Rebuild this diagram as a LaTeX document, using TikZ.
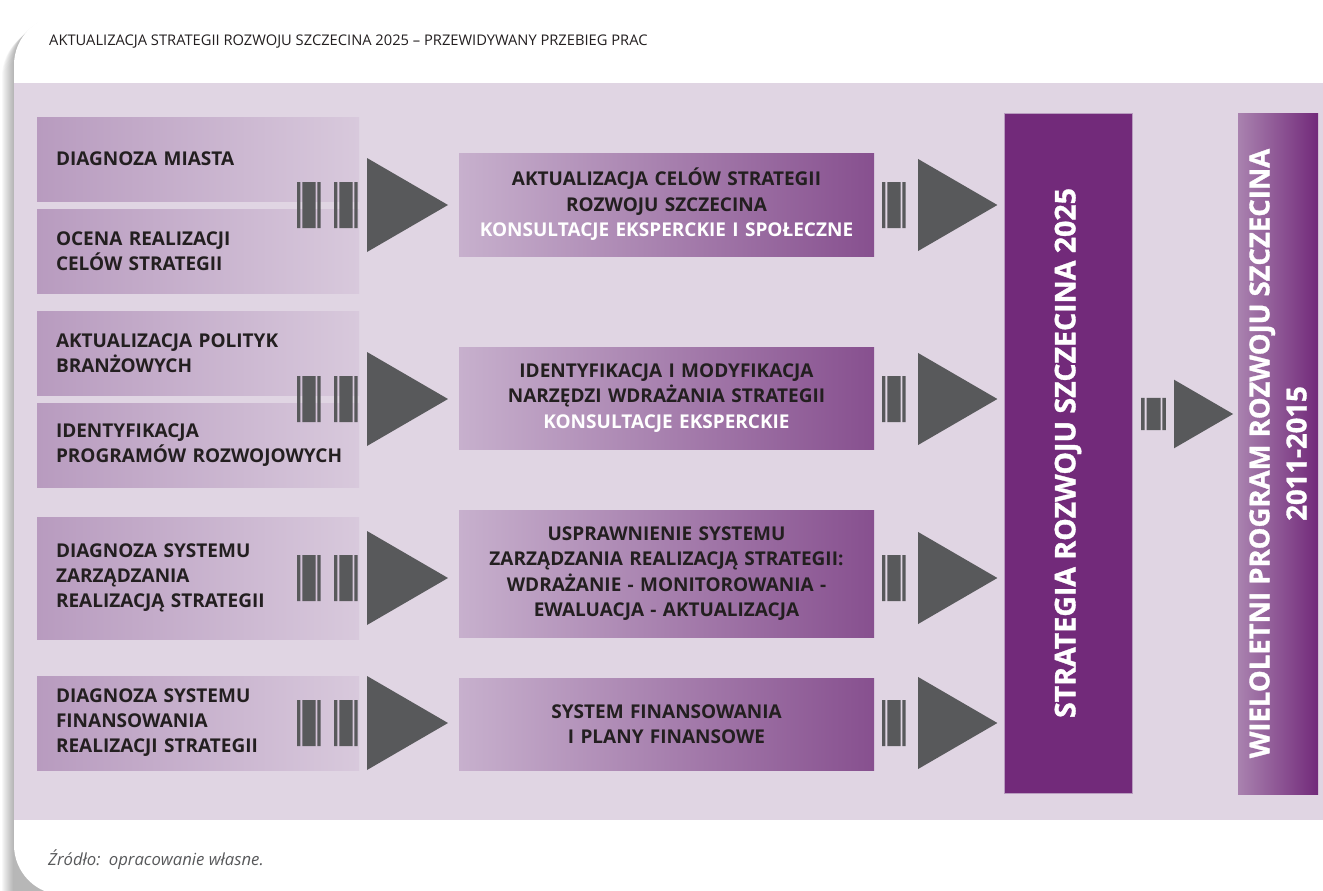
\documentclass[tikz,border=0pt]{standalone}
\usepackage{fontspec}
\setmainfont{Open Sans}
\usetikzlibrary{positioning,calc}

\definecolor{bandcol}{HTML}{E0D5E3}
\definecolor{lboxL}{HTML}{B89BBF}
\definecolor{lboxR}{HTML}{D8C9DC}
\definecolor{mboxL}{HTML}{C7B0CD}
\definecolor{mboxR}{HTML}{87508F}
\definecolor{plum}{HTML}{722A7A}
\definecolor{wprsL}{HTML}{A982AF}
\definecolor{markgray}{HTML}{58595B}
\definecolor{inkcol}{HTML}{231F20}

\tikzset{
	leftbox/.style={anchor=north west, inner xsep=19pt, inner ysep=0pt, outer sep=0pt,
		text width=284pt, align=left, left color=lboxL, right color=lboxR, text=inkcol,
		font=\fontsize{19}{25}\selectfont\bfseries},
	midbox/.style={anchor=north west, inner xsep=8pt, inner ysep=0pt, outer sep=0pt,
		minimum width=415pt, text width=399pt, align=center, left color=mboxL,
		right color=mboxR, text=inkcol, font=\fontsize{19}{25.5}\selectfont\bfseries},
	tallbar/.style={rotate=90, inner sep=0pt, outer sep=0pt, text=white, align=center,
		font=\fontsize{27.5}{37}\selectfont\bfseries\addfontfeature{FakeBold=1.2}},
	barset/.pic={\fill[markgray] (0,-23) rectangle (3.4,23) (5.4,-23) rectangle (18.7,23)
		(20.4,-23) rectangle (23.7,23);},
	head/.pic={\fill[markgray] (0,-47) -- (81,0) -- (0,47) -- cycle;}
}

\begin{document}
\begin{tikzpicture}[x=1pt,y=-1pt]
	\useasboundingbox (0,0) rectangle (1323,891);
	\clip (0,0) rectangle (1323,891);
	% card with shadow
	\foreach \k in {1,...,12}
		\fill[black,opacity=0.028,rounded corners=50pt] ({14-\k},{15+\k}) rectangle (1400,950);
	\fill[white,rounded corners=50pt] (14,15) rectangle (1400,895);
	\fill[bandcol] (14,83) rectangle (1323,820);

	\node[anchor=west, inner sep=0pt, text=inkcol, font=\fontsize{14.7}{16}\selectfont] (title)
		at (49,42) {AKTUALIZACJA STRATEGII ROZWOJU SZCZECINA 2025 – PRZEWIDYWANY PRZEBIEG PRAC};

	% left column
	\node[leftbox, minimum height=84pt] (diag) at (37,117) {DIAGNOZA MIASTA};
	\node[leftbox, minimum height=84pt, below=8pt of diag] (ocena) {OCENA REALIZACJI\\CELÓW STRATEGII};
	\node[leftbox, minimum height=84pt] (polit) at (37,311) {AKTUALIZACJA POLITYK\\BRANŻOWYCH};
	\node[leftbox, minimum height=84pt, below=8pt of polit] (progr) {IDENTYFIKACJA\\\mbox{PROGRAMÓW ROZWOJOWYCH}};
	\node[leftbox, minimum height=122pt] (zarz) at (37,517) {DIAGNOZA SYSTEMU\\ZARZĄDZANIA\\REALIZACJĄ STRATEGII};
	\node[leftbox, minimum height=94pt] (finans) at (37,676) {DIAGNOZA SYSTEMU\\FINANSOWANIA\\REALIZACJI STRATEGII};

	% middle column
	\node[midbox, minimum height=103pt] (cele) at (459,153)
		{AKTUALIZACJA CELÓW STRATEGII\\ROZWOJU SZCZECINA\\{\color{white}KONSULTACJE EKSPERCKIE I SPOŁECZNE}};
	\node[midbox, minimum height=102pt] (narz) at (459,347)
		{IDENTYFIKACJA I MODYFIKACJA\\NARZĘDZI WDRAŻANIA STRATEGII\\{\color{white}KONSULTACJE EKSPERCKIE}};
	\node[midbox, minimum height=127pt] (uspr) at (459,510)
		{USPRAWNIENIE SYSTEMU\\ZARZĄDZANIA REALIZACJĄ STRATEGII:\\WDRAŻANIE - MONITOROWANIA -\\EWALUACJA - AKTUALIZACJA};
	\node[midbox, minimum height=92pt] (sysfin) at (459,678)
		{SYSTEM FINANSOWANIA\\I PLANY FINANSOWE};

	% right bars
	\node[tallbar, minimum width=680pt, minimum height=128pt, fill=plum] (strat)
		at (1068,453) {\fontsize{28.5}{37}\selectfont STRATEGIA ROZWOJU SZCZECINA 2025};
	\draw[lboxL, line width=0.8pt] (strat.north east) rectangle (strat.south west);
	\node[tallbar, minimum width=681pt, minimum height=80pt, left color=wprsL, right color=plum] (wprs)
		at (1278,453.5) {WIELOLETNI PROGRAM ROZWOJU SZCZECINA\\2011-2015};

	% flow marks
	\coordinate (r1) at ($(diag.south east)!0.5!(ocena.north east)$);
	\coordinate (r2) at ($(polit.south east)!0.5!(progr.north east)$);
	\coordinate (r3) at (zarz.east);
	\coordinate (r4) at (finans.east);
	\coordinate (m1) at (cele.east |- r1);
	\coordinate (m2) at (narz.east |- r2);
	\coordinate (m3) at (uspr.east |- r3);
	\coordinate (m4) at (sysfin.east |- r4);
	\foreach \r in {r1,r2,r3,r4}{
		\pic at ([xshift=-62pt]\r) {barset};
		\pic at ([xshift=-25pt]\r) {barset};
		\pic at ([xshift=8pt]\r) {head};
	}
	\foreach \m in {m1,m2,m3,m4}{
		\pic at ([xshift=8pt]\m) {barset};
		\pic[scale=0.98] at ([xshift=44pt]\m) {head};
	}
	\coordinate (c0) at ([yshift=39pt]strat.south);
	\pic[xscale=1.05, yscale=0.7] at ([xshift=9pt]c0) {barset};
	\pic[scale=0.73] at ([xshift=42pt]c0) {head};

	\node[anchor=west, inner sep=0pt, text=markgray, font=\fontsize{16.7}{18}\selectfont\itshape] (src)
		at (48,860) {Źródło:\hspace{0.5em}opracowanie własne.};
\end{tikzpicture}
\end{document}
